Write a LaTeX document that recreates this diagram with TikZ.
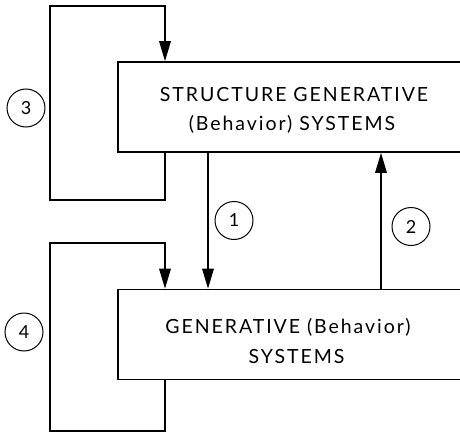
\documentclass[tikz,border=0pt]{standalone}
\usepackage{fontspec}
\setmainfont[LetterSpace=10]{Lato}
\usetikzlibrary{arrows.meta}

\tikzset{
  sysbox/.style={draw, line width=1.6pt, minimum width=362pt, inner sep=0pt},
  flow/.style={line width=1.6pt},
  tip/.style={-{Triangle[length=20pt,width=11.5pt]}},
  boxtext/.style={anchor=base, inner sep=0pt, font=\fontsize{19.5}{22}\selectfont},
  tag/.style={draw, circle, line width=1pt, minimum size=38pt, inner sep=0pt,
              font=\fontsize{18}{20}\selectfont}
}

\begin{document}
\begin{tikzpicture}[x=1pt, y=-1pt]
  \useasboundingbox (0,0) rectangle (460,433);
  \clip (0,0) rectangle (460,433);

  % the two system levels; both run on past the right edge
  \node[sysbox, minimum height=90pt] (s) at (299,107) {};
  \node[sysbox, minimum height=90pt] (g) at (299,334.5) {};

  \node[boxtext] (s1) at (294,102) {STRUCTURE GENERATIVE};
  \node[boxtext] (s2) at (292,131) {(Behavior) SYSTEMS};
  \node[boxtext] (g1) at (288,333) {GENERATIVE (Behavior)};
  \node[boxtext] (g2) at (296.5,363) {SYSTEMS};

  % x positions of the loops and of the two links
  \coordinate (lx) at (165,0);
  \coordinate (ox) at (50,0);
  \coordinate (ax) at (208,0);
  \coordinate (bx) at (381,0);

  % loop 3 on the structure generative level
  \coordinate (t3) at (50,6);
  \coordinate (b3) at (165,200);
  \draw[flow, tip] (s.south -| lx) -- (b3) -| (t3) -| (s.north -| lx);

  % loop 4 on the generative level
  \coordinate (t4) at (50,243);
  \coordinate (b4) at (165,431);
  \draw[flow, tip] (g.south -| lx) -- (b4) -| (t4) -| (g.north -| lx);

  % links between the levels
  \draw[flow, tip] (s.south -| ax) -- (g.north -| ax);
  \draw[flow, tip] (g.north -| bx) -- (s.south -| bx);

  % numbered tags
  \node[tag] (n1) at (234,220.5) {1};
  \node[tag] (n2) at (411,226.5) {2};
  \node[tag] (n3) at (26,108) {3};
  \node[tag] (n4) at (24,332) {4};
\end{tikzpicture}
\end{document}
